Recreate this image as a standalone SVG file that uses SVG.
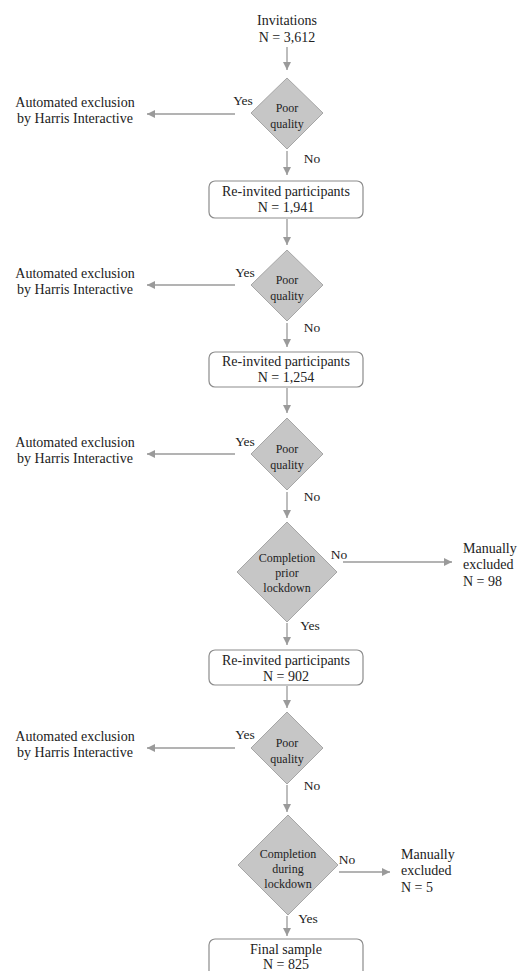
<svg xmlns="http://www.w3.org/2000/svg" width="520" height="971" viewBox="0 0 520 971">
<defs>
<style>
text{font-family:"Liberation Serif","Times New Roman",serif;fill:#222;}
.t{font-size:14px;text-anchor:middle;}
.l{font-size:14px;text-anchor:start;}
.d{font-size:12px;text-anchor:middle;}
.lab{font-size:13.5px;text-anchor:middle;}
.dia{fill:#c6c6c6;stroke:#a6a6a6;stroke-width:1;}
.box{fill:#fff;stroke:#8c8c8c;stroke-width:1.2;}
.c{stroke:#9a9a9a;stroke-width:1.3;fill:none;marker-end:url(#ah);}
</style>
<marker id="ah" markerUnits="userSpaceOnUse" markerWidth="10" markerHeight="10" refX="8" refY="4" orient="auto">
<path d="M0,0 L8,4 L0,8 Z" fill="#9a9a9a"/>
</marker>
</defs>
<rect width="520" height="971" fill="#fff"/>

<g id="connectors">
<line class="c" x1="287" y1="47" x2="287" y2="70"/>
<line class="c" x1="287" y1="151" x2="287" y2="175"/>
<line class="c" x1="287" y1="219" x2="287" y2="245"/>
<line class="c" x1="287" y1="323" x2="287" y2="347"/>
<line class="c" x1="287" y1="388" x2="287" y2="413"/>
<line class="c" x1="287" y1="492" x2="287" y2="518"/>
<line class="c" x1="287" y1="623" x2="287" y2="645"/>
<line class="c" x1="287" y1="686" x2="287" y2="708"/>
<line class="c" x1="287" y1="785" x2="287" y2="812"/>
<line class="c" x1="287" y1="916" x2="287" y2="936"/>
<line class="c" x1="235" y1="114" x2="147" y2="114"/>
<line class="c" x1="235" y1="285" x2="147" y2="285"/>
<line class="c" x1="235" y1="454" x2="147" y2="454"/>
<line class="c" x1="235" y1="748" x2="147" y2="748"/>
<line class="c" x1="343" y1="562" x2="452" y2="562"/>
<line class="c" x1="339" y1="872" x2="390" y2="872"/>
<text class="lab" x="243" y="105">Yes</text>
<text class="lab" x="312" y="163">No</text>
<text class="lab" x="245" y="277">Yes</text>
<text class="lab" x="312" y="332">No</text>
<text class="lab" x="245" y="446">Yes</text>
<text class="lab" x="312" y="501">No</text>
<text class="lab" x="339" y="559">No</text>
<text class="lab" x="310" y="630">Yes</text>
<text class="lab" x="245" y="739">Yes</text>
<text class="lab" x="312" y="790">No</text>
<text class="lab" x="347" y="864">No</text>
<text class="lab" x="308" y="923">Yes</text>
</g>

<g id="invitations">
<text class="t" x="287" y="25">Invitations</text>
<text class="t" x="287" y="42">N = 3,612</text>
</g>

<g id="poor1">
<polygon class="dia" points="287,78 323,113 287,149 251,113"/>
<text class="d" x="287" y="112">Poor</text>
<text class="d" x="287" y="128">quality</text>
</g>
<g id="excl1">
<text class="t" x="75" y="107">Automated exclusion</text>
<text class="t" x="75" y="123">by Harris Interactive</text>
</g>

<g id="reinv1">
<rect class="box" x="209" y="181" width="154" height="37" rx="6"/>
<text class="t" x="286" y="196">Re-invited participants</text>
<text class="t" x="286" y="212">N = 1,941</text>
</g>

<g id="poor2">
<polygon class="dia" points="287,250 323,285 287,321 251,285"/>
<text class="d" x="287" y="284">Poor</text>
<text class="d" x="287" y="300">quality</text>
</g>
<g id="excl2">
<text class="t" x="75" y="278">Automated exclusion</text>
<text class="t" x="75" y="294">by Harris Interactive</text>
</g>

<g id="reinv2">
<rect class="box" x="209" y="352" width="154" height="35" rx="6"/>
<text class="t" x="286" y="366">Re-invited participants</text>
<text class="t" x="286" y="382">N = 1,254</text>
</g>

<g id="poor3">
<polygon class="dia" points="287,418 323,454 287,490 251,454"/>
<text class="d" x="287" y="453">Poor</text>
<text class="d" x="287" y="469">quality</text>
</g>
<g id="excl3">
<text class="t" x="75" y="447">Automated exclusion</text>
<text class="t" x="75" y="463">by Harris Interactive</text>
</g>

<g id="prior">
<polygon class="dia" points="287,522 337,572 287,622 237,572"/>
<text class="d" x="287" y="562">Completion</text>
<text class="d" x="287" y="577">prior</text>
<text class="d" x="287" y="592">lockdown</text>
</g>
<g id="manual1">
<text class="l" x="463" y="553">Manually</text>
<text class="l" x="463" y="569">excluded</text>
<text class="l" x="463" y="586">N = 98</text>
</g>

<g id="reinv3">
<rect class="box" x="209" y="650" width="154" height="35" rx="6"/>
<text class="t" x="286" y="665">Re-invited participants</text>
<text class="t" x="286" y="681">N = 902</text>
</g>

<g id="poor4">
<polygon class="dia" points="287,712 323,748 287,784 251,748"/>
<text class="d" x="287" y="747">Poor</text>
<text class="d" x="287" y="763">quality</text>
</g>
<g id="excl4">
<text class="t" x="75" y="741">Automated exclusion</text>
<text class="t" x="75" y="757">by Harris Interactive</text>
</g>

<g id="during">
<polygon class="dia" points="288,815 338,865 288,915 238,865"/>
<text class="d" x="288" y="858">Completion</text>
<text class="d" x="288" y="873">during</text>
<text class="d" x="288" y="888">lockdown</text>
</g>
<g id="manual2">
<text class="l" x="401" y="859">Manually</text>
<text class="l" x="401" y="875">excluded</text>
<text class="l" x="401" y="892">N = 5</text>
</g>

<g id="final">
<rect class="box" x="209" y="939" width="154" height="40" rx="6"/>
<text class="t" x="286" y="954">Final sample</text>
<text class="t" x="286" y="969">N = 825</text>
</g>
</svg>
